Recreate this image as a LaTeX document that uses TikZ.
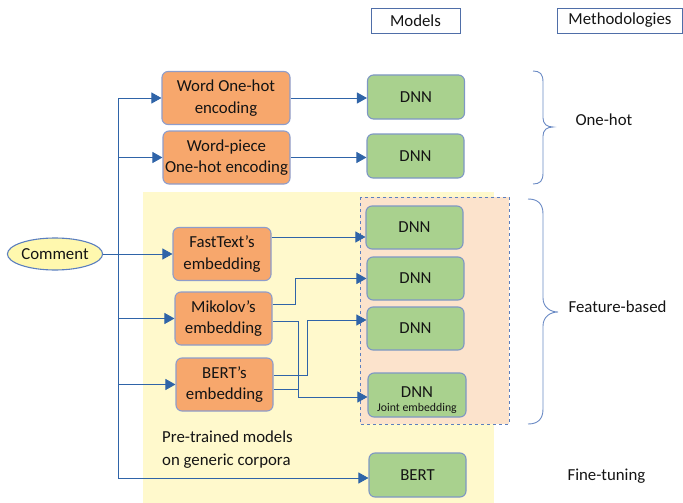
\documentclass[tikz,border=0pt]{standalone}
\usepackage{fontspec}
\setmainfont{Carlito}
\usetikzlibrary{arrows.meta,shapes.geometric}
\definecolor{orfill}{HTML}{F7A76C}
\definecolor{boxedge}{HTML}{8E9DCB}
\definecolor{grfill}{HTML}{A9D18E}
\definecolor{gredge}{HTML}{7E97C4}
\definecolor{ybg}{HTML}{FFF9CC}
\definecolor{peach}{HTML}{FCE3CC}
\definecolor{dashblue}{HTML}{5B7FBF}
\definecolor{arrowblue}{HTML}{2F64A8}
\definecolor{bracecol}{HTML}{6A8AC4}
\definecolor{ellfill}{HTML}{FFF8AE}
\definecolor{hdredge}{HTML}{4F6EA8}
\definecolor{txt}{HTML}{141414}
\begin{document}
\begin{tikzpicture}[x=1pt,y=-1pt,
  every node/.style={text=txt,font=\fontsize{16.8}{21.5}\selectfont},
  orbox/.style={rectangle,rounded corners=6pt,fill=orfill,draw=boxedge,line width=1.1pt,align=center,inner sep=0pt},
  grbox/.style={rectangle,rounded corners=6pt,fill=grfill,draw=gredge,line width=1.1pt,align=center,inner sep=0pt,minimum width=97pt,minimum height=44pt},
  hdr/.style={rectangle,draw=hdredge,line width=0.8pt,fill=white,inner sep=0pt,minimum height=25pt},
  conn/.style={draw=arrowblue,line width=0.9pt,-{Triangle[length=10pt,width=11pt]}},
  plainline/.style={draw=arrowblue,line width=0.9pt},
  bracestyle/.style={draw=bracecol,line width=0.9pt},
  lbl/.style={anchor=west,align=left}
]
\useasboundingbox (0,0) rectangle (683,503);
% backgrounds
\fill[ybg] (143,192) rectangle (494,503);
\draw[dashed,fill=peach,draw=dashblue,line width=0.9pt] (360,197) rectangle (509,424);

% header boxes
\node[hdr,minimum width=89pt] (models) at (415.5,20.5) {Models};
\node[hdr,minimum width=125pt] (meth) at (620,20.5) {Methodologies};

% left nodes
\node[ellipse,draw=dashblue,fill=ellfill,line width=1.1pt,minimum width=90pt,minimum height=32pt,inner sep=0pt] (cm) at (55,254) {Comment};
\node[orbox,minimum width=128pt,minimum height=53pt] (w1) at (226,98) {Word One-hot\\encoding};
\node[orbox,minimum width=127pt,minimum height=53pt] (w2) at (226.5,157.5) {Word-piece\\One-hot encoding};
\node[orbox,minimum width=98pt,minimum height=53pt] (ft) at (222,254) {FastText's\\embedding};
\node[orbox,minimum width=97pt,minimum height=53pt] (mk) at (223.5,318.5) {Mikolov's\\embedding};
\node[orbox,minimum width=97pt,minimum height=53pt] (bt) at (224.5,384.5) {BERT's\\embedding};

% model nodes
\node[grbox] (d1) at (416,97) {DNN};
\node[grbox] (d2) at (415.5,156) {DNN};
\node[grbox,minimum height=43pt] (d3) at (414.5,227.5) {DNN};
\node[grbox,minimum height=43pt] (d4) at (415.5,278.5) {DNN};
\node[grbox,minimum height=43pt] (d5) at (415.5,328.5) {DNN};
\node[grbox,minimum width=98pt] (d6) at (417,395) {};
\node (d6t) at (417,392) {DNN};
\node[font=\fontsize{11.8}{12}\selectfont,inner sep=0pt] (d6j) at (417,408) {Joint embedding};
\node[grbox] (bert) at (417.5,475) {BERT};

% trunk
\coordinate (j1) at (118,98);
\coordinate (j2) at (118,157.5);
\coordinate (j4) at (118,318.5);
\coordinate (j5) at (118,384.5);
\coordinate (j6) at (118,478);
\draw[plainline] (j1) -- (j6);
\draw[conn] (j1) -- (w1.west);
\draw[conn] (j2) -- (w2.west);
\draw[conn] (cm.east) -- (ft.west);
\draw[conn] (j4) -- (mk.west);
\draw[conn] (j5) -- (bt.west);
\draw[conn] (j6) -- (j6 -| bert.west);

% right connectors
\draw[conn] (w1.east) -- (w1.east -| d1.west);
\draw[conn] (w2.east) -- (w2.east -| d2.west);
\draw[conn] ([yshift=17pt]ft.east) -- ([yshift=17pt]ft.east -| d3.west);
\draw[conn] ([yshift=14.5pt]mk.east) -- ++(23,0) |- (d4.west);
\draw[conn] ([yshift=-2.5pt]mk.east) -- ++(26,0) |- ([yshift=-2pt]d6.west);
\draw[conn] ([yshift=9.5pt]bt.east) -- ++(34,0) |- ([yshift=8.5pt]d5.west);
\draw[plainline] ([yshift=-4.5pt]bt.east) -- ++(25,0);

% braces
\draw[bracestyle] (533,71) .. controls (540,71) and (543,74) .. (543,82) -- (543,118)
  .. controls (543,124) and (547,127) .. (553,127)
  .. controls (547,127) and (543,130) .. (543,136) -- (543,173)
  .. controls (543,181) and (540,184) .. (533,184);
\draw[bracestyle] (528,199) .. controls (538,199) and (543,204) .. (543,214) -- (543,298)
  .. controls (543,307) and (550,312) .. (558,312)
  .. controls (550,312) and (543,317) .. (543,326) -- (543,409)
  .. controls (543,419) and (538,424) .. (528,424);

% labels
\node[lbl] (onehot) at (572,120) {One-hot};
\node[lbl] (featb) at (565,307) {Feature-based};
\node[lbl] (finet) at (564,476) {Fine-tuning};
\node[lbl,inner sep=0pt] (pretr) at (162,449.5) {Pre-trained models\\[1pt]on generic corpora};
\end{tikzpicture}
\end{document}
